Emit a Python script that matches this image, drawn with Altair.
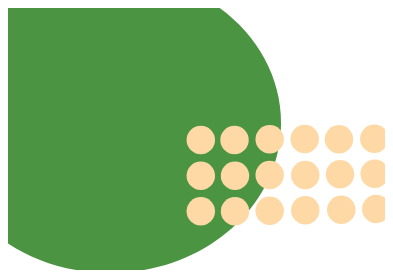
import altair as alt
import pandas as pd

# Small dots (positions)
dot_x = [200.8, 234.5, 269.7, 304.7, 339.0, 374.3,
         200.8, 235.0, 269.7, 305.3, 340.0, 374.7,
         200.8, 235.0, 269.7, 305.3, 341.3, 376.3]
dot_y = [140.0, 140.0, 139.3, 139.0, 139.3, 138.7,
         175.8, 175.8, 175.0, 175.0, 174.3, 173.7,
         211.3, 211.3, 210.7, 210.3, 209.7, 209.0]

# Large blob
blob_x = [110.0]
blob_y = [123.0]

dots = pd.DataFrame({"x": dot_x, "y": dot_y})
blob = pd.DataFrame({"x": blob_x, "y": blob_y})

xs = alt.Scale(domain=[8, 385], nice=False, zero=False)
ys = alt.Scale(domain=[8, 270], nice=False, zero=False, reverse=True)

ellipse = "M-1,0A1,0.877,0,1,0,1,0A1,0.877,0,1,0,-1,0Z"

big = alt.Chart(blob).mark_point(
    shape=ellipse, filled=True, opacity=1, color="#4a9442", size=116964, strokeWidth=0
).encode(
    x=alt.X("x:Q", scale=xs, axis=None),
    y=alt.Y("y:Q", scale=ys, axis=None),
)

small = alt.Chart(dots).mark_point(
    shape="circle", filled=True, opacity=1, color="#fed9a6", size=810, strokeWidth=0
).encode(
    x=alt.X("x:Q", scale=xs, axis=None),
    y=alt.Y("y:Q", scale=ys, axis=None),
)

chart = alt.layer(big, small).properties(
    width=377, height=262, padding=0, autosize=alt.AutoSizeParams(type="none")
).configure_view(strokeWidth=0)

chart.save("out.html", embed_options={"renderer": "svg", "actions": False})
